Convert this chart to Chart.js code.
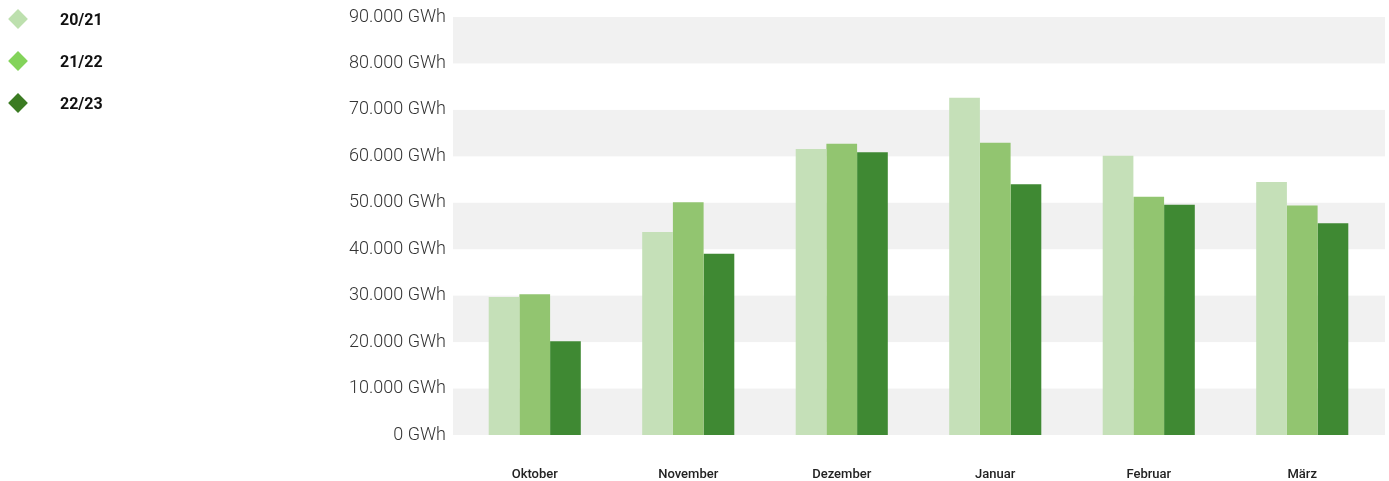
<!DOCTYPE html>
<html>
<head>
<meta charset="utf-8">
<script src="https://cdn.jsdelivr.net/npm/chart.js@4.4.0/dist/chart.umd.min.js"></script>
<style>
html,body{margin:0;padding:0;background:#fff}
#wrap{position:relative;width:1389px;height:481px}
#legend{position:absolute;left:0;top:0;font-family:Roboto,"Noto Sans",sans-serif;font-weight:700;font-size:16px;color:#111}
.item{position:absolute;left:0;height:20px;white-space:nowrap}
.item i{position:absolute;left:11px;top:3px;width:14px;height:14px;transform:rotate(45deg)}
.item span{position:absolute;left:60px;top:1px}
</style>
</head>
<body>
<div id="wrap">
<canvas id="c" width="1389" height="481"></canvas>
<div id="legend"></div>
</div>
<script>
// months
let labels=["Oktober","November","Dezember","Januar","Februar","März"]

// GWh per season
let s2021=[29700,43700,61600,72600,60100,54500]
let s2122=[30300,50100,62700,62900,51300,49400]
let s2223=[20200,39000,60900,54000,49600,45600]

let seasons=["20/21","21/22","22/23"]
let barColors=["#c5e0b8","#92c570","#3f8933"]
let legendColors=["#bde0ae","#83d35a","#3b7b22"]

function fmt(v){
return String(v).replace(/\B(?=(\d{3})+(?!\d))/g,".")+" GWh"
}

// grey stripes every other 10.000
const bands={
id:"bands",
beforeDatasetsDraw(ch){
let y=ch.scales.y
let a=ch.chartArea
let ctx=ch.ctx
ctx.save()
ctx.fillStyle="#f1f1f1"
for(let v=0;v<90000;v+=20000){
let top=y.getPixelForValue(v+10000)
let bot=y.getPixelForValue(v)
ctx.fillRect(a.left-5,top,a.right-a.left+11,bot-top)
}
ctx.restore()
}
}

let data=[s2021,s2122,s2223]

new Chart(document.getElementById("c"),{
type:"bar",
data:{
labels:labels,
datasets:seasons.map((s,i)=>({
label:s,
data:data[i],
backgroundColor:barColors[i],
borderWidth:0,
categoryPercentage:0.6,
barPercentage:1.0
}))
},
options:{
responsive:false,
animation:false,
layout:{padding:{top:17,right:10,left:0,bottom:0}},
plugins:{legend:{display:false},tooltip:{enabled:false}},
scales:{
x:{
grid:{display:false},
border:{display:false},
ticks:{color:"#222",padding:24,font:{family:"Roboto",size:13,weight:"500"}},
afterFit(s){s.height=46}
},
y:{
min:0,max:90000,
grid:{display:false},
border:{display:false},
ticks:{stepSize:10000,color:"#333",padding:4,font:{family:"Roboto",size:18,weight:"300"},callback:v=>fmt(v)},
afterFit(s){s.width=458}
}
}
},
plugins:[bands]
})

// legend on the left
let lg=document.getElementById("legend")
seasons.forEach((s,i)=>{
let d=document.createElement("div")
d.className="item"
d.style.top=(9+i*42)+"px"
d.innerHTML='<i style="background:'+legendColors[i]+'"></i><span>'+s+'</span>'
lg.appendChild(d)
})
</script>
</body>
</html>
